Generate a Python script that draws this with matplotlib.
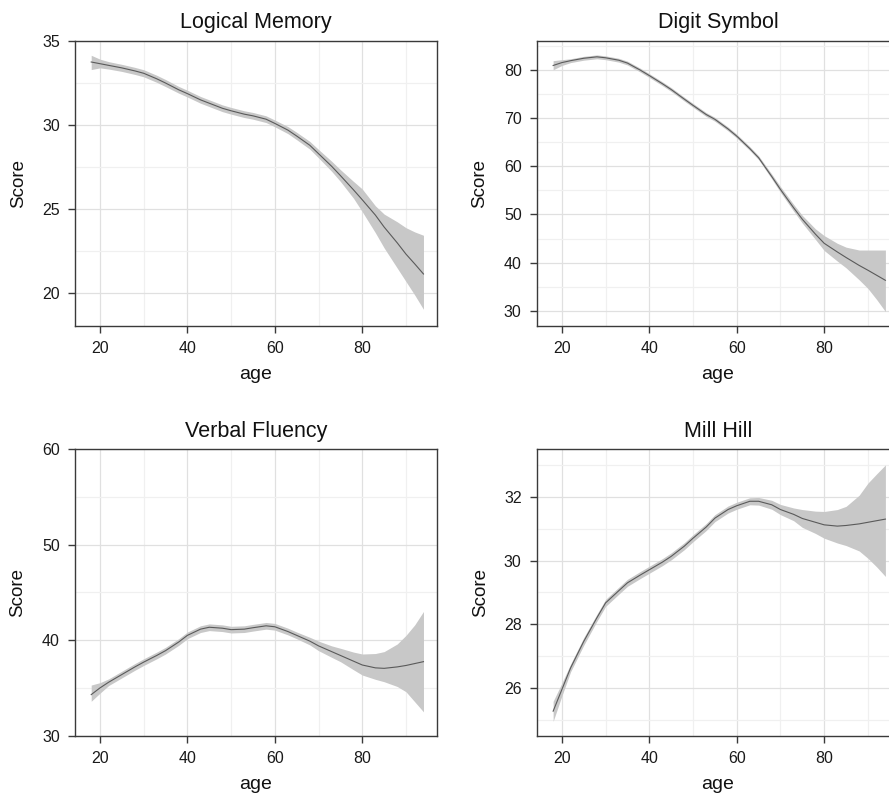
import matplotlib
matplotlib.use("Agg")
import matplotlib.pyplot as plt
import numpy as np

plt.rcParams["font.family"] = ["Liberation Sans", "DejaVu Sans"]

# ── data (loess fit with confidence band) ────────────────────────────────────
age = [18, 20, 22, 25, 28, 30, 33, 35, 38, 40, 43, 45, 48, 50, 53, 55,
       58, 60, 63, 65, 68, 70, 73, 75, 78, 80, 83, 85, 88, 90, 92, 94]

logical_fit = [33.75, 33.65, 33.55, 33.4, 33.22, 33.08, 32.75, 32.5, 32.1, 31.87,
               31.5, 31.3, 31.0, 30.85, 30.65, 30.55, 30.35, 30.1, 29.7, 29.35,
               28.8, 28.3, 27.55, 27.0, 26.15, 25.56, 24.65, 23.94, 23.0, 22.33,
               21.75, 21.15]
logical_hi = [34.15, 33.92, 33.77, 33.61, 33.43, 33.29, 32.96, 32.71, 32.3, 32.07,
              31.7, 31.5, 31.2, 31.05, 30.85, 30.75, 30.55, 30.3, 29.91, 29.57,
              29.03, 28.55, 27.85, 27.35, 26.65, 26.2, 25.2, 24.71, 24.25, 23.9,
              23.65, 23.45]
logical_lo = [33.3, 33.4, 33.33, 33.19, 33.01, 32.87, 32.54, 32.29, 31.9, 31.67,
              31.3, 31.1, 30.8, 30.65, 30.45, 30.35, 30.15, 29.9, 29.49, 29.13,
              28.57, 28.05, 27.25, 26.65, 25.65, 24.85, 23.6, 22.7, 21.5, 20.7,
              19.9, 19.05]

digit_fit = [81.0, 81.6, 82.0, 82.5, 82.8, 82.6, 82.1, 81.5, 80.0, 78.9,
             77.2, 76.0, 74.0, 72.7, 70.8, 69.8, 67.8, 66.3, 63.7, 61.8,
             57.9, 55.2, 51.4, 49.0, 45.9, 44.0, 42.2, 41.05, 39.4, 38.4,
             37.35, 36.3]
digit_hi = [82.0, 82.2, 82.4, 82.9, 83.2, 83.0, 82.5, 81.9, 80.4, 79.3,
            77.6, 76.4, 74.4, 73.1, 71.2, 70.2, 68.2, 66.7, 64.1, 62.2,
            58.4, 55.8, 52.1, 49.8, 47.0, 45.6, 44.0, 43.2, 42.6, 42.6,
            42.6, 42.6]
digit_lo = [80.1, 81.0, 81.6, 82.1, 82.4, 82.2, 81.7, 81.1, 79.6, 78.5,
            76.8, 75.6, 73.6, 72.3, 70.4, 69.4, 67.4, 65.9, 63.3, 61.4,
            57.4, 54.6, 50.7, 48.2, 44.8, 42.5, 40.3, 38.9, 36.4, 34.6,
            32.3, 29.8]

verbal_fit = [34.3, 35.0, 35.6, 36.4, 37.2, 37.7, 38.4, 38.9, 39.8, 40.5,
              41.15, 41.35, 41.25, 41.1, 41.15, 41.3, 41.5, 41.4, 40.9, 40.5,
              39.9, 39.4, 38.8, 38.4, 37.8, 37.4, 37.1, 37.05, 37.2, 37.35,
              37.55, 37.75]
verbal_hi = [35.3, 35.55, 35.95, 36.75, 37.55, 38.05, 38.75, 39.25, 40.15, 40.85,
             41.5, 41.7, 41.6, 41.45, 41.5, 41.65, 41.85, 41.75, 41.25, 40.85,
             40.3, 39.9, 39.4, 39.15, 38.75, 38.55, 38.6, 38.8, 39.6, 40.5,
             41.6, 43.0]
verbal_lo = [33.6, 34.45, 35.25, 36.05, 36.85, 37.35, 38.05, 38.55, 39.45, 40.15,
             40.8, 41.0, 40.9, 40.75, 40.8, 40.95, 41.15, 41.05, 40.55, 40.15,
             39.5, 38.9, 38.2, 37.75, 36.9, 36.35, 35.9, 35.65, 35.15, 34.6,
             33.55, 32.5]

mill_fit = [25.27, 25.95, 26.63, 27.46, 28.2, 28.67, 29.05, 29.3, 29.55, 29.71,
            29.95, 30.13, 30.45, 30.7, 31.05, 31.33, 31.6, 31.72, 31.86, 31.86,
            31.75, 31.6, 31.45, 31.32, 31.2, 31.12, 31.08, 31.1, 31.15, 31.2,
            31.25, 31.3]
mill_hi = [25.58, 26.15, 26.75, 27.58, 28.31, 28.78, 29.16, 29.41, 29.66, 29.82,
           30.06, 30.24, 30.56, 30.81, 31.16, 31.44, 31.71, 31.83, 31.97, 31.98,
           31.89, 31.76, 31.65, 31.6, 31.55, 31.54, 31.6, 31.7, 32.05, 32.43,
           32.72, 33.0]
mill_lo = [24.95, 25.75, 26.51, 27.34, 28.09, 28.56, 28.94, 29.19, 29.44, 29.6,
           29.84, 30.02, 30.34, 30.59, 30.94, 31.22, 31.49, 31.61, 31.75, 31.74,
           31.61, 31.44, 31.25, 31.04, 30.85, 30.7, 30.55, 30.47, 30.3, 30.07,
           29.8, 29.5]

titles = ["Logical Memory", "Digit Symbol", "Verbal Fluency", "Mill Hill"]
fits = [logical_fit, digit_fit, verbal_fit, mill_fit]
highs = [logical_hi, digit_hi, verbal_hi, mill_hi]
lows = [logical_lo, digit_lo, verbal_lo, mill_lo]

x_major = [20, 40, 60, 80]
x_minor = [30, 50, 70, 90]
y_major = [[20, 25, 30, 35], [30, 40, 50, 60, 70, 80],
           [30, 40, 50, 60], [26, 28, 30, 32]]
y_minor = [[22.5, 27.5, 32.5], [35, 45, 55, 65, 75, 85],
           [35, 45, 55], [25, 27, 29, 31, 33]]
y_limits = [(18.06, 35.0), (26.8, 86.1), (30.0, 60.0), (24.5, 33.5)]

# axes boxes in figure fractions; right column runs past the figure edge
boxes = [
    [0.0844, 0.591, 0.4072, 0.3576],
    [0.604, 0.591, 0.4072, 0.3576],
    [0.0844, 0.0769, 0.4072, 0.3597],
    [0.604, 0.0769, 0.4072, 0.3597],
]

fig = plt.figure(figsize=(8.89, 7.97), dpi=100)

for i in range(4):
    ax = fig.add_axes(boxes[i])
    ax.fill_between(age, lows[i], highs[i], color="#c8c8c8", lw=0, zorder=2)
    ax.plot(age, fits[i], color="#5a5a5a", lw=0.8, zorder=3)

    ax.set_xlim(14.3, 97.1)
    ax.set_ylim(*y_limits[i])
    ax.set_xticks(x_major)
    ax.set_xticks(x_minor, minor=True)
    ax.set_yticks(y_major[i])
    ax.set_yticks(y_minor[i], minor=True)

    ax.grid(which="major", color="#e0e0e0", lw=0.9, zorder=0)
    ax.grid(which="minor", color="#f0f0f0", lw=0.9, zorder=0)
    ax.set_axisbelow(True)

    for side in ["left", "right", "top", "bottom"]:
        ax.spines[side].set_color("#3a3a3a")
        ax.spines[side].set_linewidth(1.0)

    ax.tick_params(which="major", direction="out", length=5, width=1.0,
                   color="#3a3a3a", labelsize=11.5, labelcolor="#1a1a1a", pad=6)
    ax.tick_params(which="minor", length=0)

    ax.set_title(titles[i], fontsize=15.5, pad=9, color="#111111")
    ax.set_xlabel("age", fontsize=14, labelpad=7, color="#111111")
    ax.set_ylabel("Score", fontsize=13.5, labelpad=11, color="#111111")

fig.savefig("out.png", dpi=100)
